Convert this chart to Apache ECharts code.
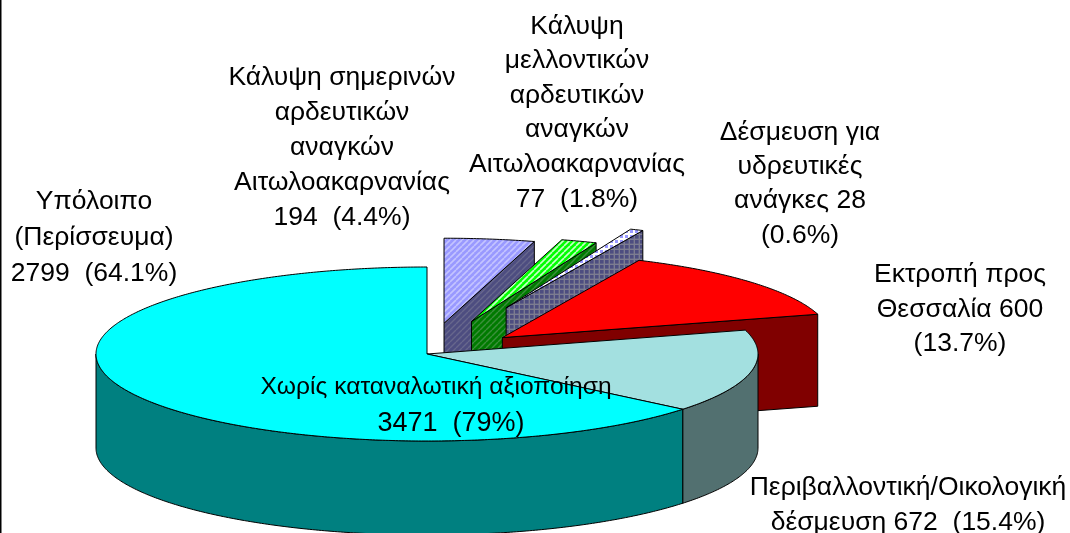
<!DOCTYPE html>
<html>
<head>
<meta charset="utf-8">
<style>
html, body { margin: 0; padding: 0; background: #fff; }
#chart { width: 1070px; height: 533px; }
</style>
<script src="https://cdn.jsdelivr.net/npm/echarts@6/dist/echarts.min.js"></script>
</head>
<body>
<div id="chart"></div>
<script>
// slices, clockwise from 12 o'clock (this is also the back to front order)
var categories = [
    'Κάλυψη σημερινών\nαρδευτικών\nαναγκών\nΑιτωλοακαρνανίας',
    'Κάλυψη\nμελλοντικών\nαρδευτικών\nαναγκών\nΑιτωλοακαρνανίας',
    'Δέσμευση για\nυδρευτικές\nανάγκες',
    'Εκτροπή προς\nΘεσσαλία',
    'Περιβαλλοντική/Οικολογική\nδέσμευση',
    'Υπόλοιπο\n(Περίσσευμα)'
];
var values = [194, 77, 28, 600, 672, 2799];
var percents = ['4.4%', '1.8%', '0.6%', '13.7%', '15.4%', '64.1%'];
var explode = [0.37, 0.41, 0.6, 0.3, 0, 0];

var totalName = 'Χωρίς καταναλωτική αξιοποίηση';
var totalValue = 3471;
var totalPercent = '79%';

// how each label breaks between name and value
var labelTexts = [
    categories[0] + '\n' + values[0] + '  (' + percents[0] + ')',
    categories[1] + '\n' + values[1] + '  (' + percents[1] + ')',
    categories[2] + ' ' + values[2] + '\n(' + percents[2] + ')',
    categories[3] + ' ' + values[3] + '\n(' + percents[3] + ')',
    categories[4] + ' ' + values[4] + '  (' + percents[4] + ')',
    categories[5] + '\n' + values[5] + '  (' + percents[5] + ')',
    totalName,
    totalValue + '  (' + totalPercent + ')'
];
// label centre x, top y, line step, font size
var labelSpots = [
    [342, 60, 35, 26.5], [577, 9, 34.6, 26.5], [800, 115, 34.4, 26.5], [960, 258, 34.2, 26.5],
    [908, 470, 35, 26.5], [94, 184, 36, 26.5], [436, 370, 35, 24.6], [451, 406, 35, 27]
];

var cx = 427, cy = 354, rx = 331, ry = 87, depth = 94;
// exploded slices sit a little further back and come out slightly smaller
var rxOut = 328, ryOut = 85, depthOut = 92, explodeRy = 84;

function makePattern(size, base, draw) {
    var c = document.createElement('canvas');
    c.width = size;
    c.height = size;
    var g = c.getContext('2d');
    g.fillStyle = base;
    g.fillRect(0, 0, size, size);
    draw(g, size);
    return {image: c, repeat: 'repeat'};
}

function stripes(base, color, w) {
    return makePattern(6, base, function (g, s) {
        g.strokeStyle = color;
        g.lineWidth = w;
        for (var i = -s; i <= 2 * s; i += s) {
            g.beginPath();
            g.moveTo(i, s);
            g.lineTo(i + s, 0);
            g.stroke();
        }
    });
}

function grid(base, color, size, w) {
    return makePattern(size, base, function (g, s) {
        g.fillStyle = color;
        g.fillRect(s - w, 0, w, s);
        g.fillRect(0, s - w, s, w);
    });
}

var tops = [
    stripes('#9999ff', '#c4c4ff', 1.6),
    stripes('#00ff00', '#c8ffc8', 1.6),
    grid('#9999ff', '#ffffff', 5, 2),
    '#ff0000',
    '#a3e0e0',
    '#00ffff'
];
var walls = [
    stripes('#4d4d80', '#67678c', 1.4),
    stripes('#007a00', '#3c8f3c', 1.4),
    grid('#4d4d80', '#7c7c90', 5, 1.4),
    '#800000',
    '#527070',
    '#008080'
];

var total = values.reduce(function (a, b) { return a + b; }, 0);
var starts = [];
values.reduce(function (a, v, i) { starts[i] = a; return a + v; }, 0);

function toAngle(v) {
    return v / total * 2 * Math.PI;
}

function renderSlice(params, api) {
    var i = params.dataIndex;
    var a0 = toAngle(starts[i]);
    var a1 = a0 + toAngle(api.value(0));
    var mid = (a0 + a1) / 2;
    var ox = cx + explode[i] * rx * Math.sin(mid);
    var oy = cy - explode[i] * explodeRy * Math.cos(mid);
    var out = explode[i] > 0;
    var srx = out ? rxOut : rx, sry = out ? ryOut : ry, d = out ? depthOut : depth;

    function rim(a, drop) {
        return [ox + srx * Math.sin(a), oy - sry * Math.cos(a) + (drop || 0)];
    }
    function arc(from, to, drop) {
        var pts = [];
        var n = Math.max(2, Math.ceil((to - from) / 0.01));
        for (var k = 0; k <= n; k++) {
            pts.push(rim(from + (to - from) * k / n, drop));
        }
        return pts;
    }
    function face(points, fill) {
        return {
            type: 'polygon',
            shape: {points: points},
            style: {fill: fill, stroke: '#000', lineWidth: 1, lineJoin: 'round'}
        };
    }

    var children = [];
    // cut face on the clockwise end, only the right half shows it
    if (a1 < Math.PI) {
        children.push(face([[ox, oy], rim(a1), rim(a1, d), [ox, oy + d]], walls[i]));
    }
    // rounded outer wall, front half only
    var w0 = Math.max(a0, Math.PI / 2), w1 = Math.min(a1, 3 * Math.PI / 2);
    if (w1 > w0) {
        children.push(face(arc(w0, w1).concat(arc(w0, w1, d).reverse()), walls[i]));
    }
    children.push(face([[ox, oy]].concat(arc(a0, a1)), tops[i]));
    return {type: 'group', children: children};
}

function renderLabel(params, api) {
    var spot = labelSpots[params.dataIndex];
    return {
        type: 'text',
        x: spot[0],
        y: spot[1],
        style: {
            text: labelTexts[params.dataIndex],
            fill: '#000',
            font: spot[3] + 'px "Liberation Sans", Arial, sans-serif',
            lineHeight: spot[2],
            align: 'center',
            verticalAlign: 'top'
        }
    };
}

var myChart = echarts.init(document.getElementById('chart'));

var option = {
    animation: false,
    backgroundColor: '#fff',
    graphic: [{
        type: 'rect',
        shape: {x: 0, y: 0, width: 1.5, height: 533},
        style: {fill: '#000'}
    }],
    series: [
        {
            type: 'custom',
            coordinateSystem: 'none',
            silent: true,
            renderItem: renderSlice,
            data: values.map(function (v) { return [v]; })
        },
        {
            type: 'custom',
            coordinateSystem: 'none',
            silent: true,
            z: 5,
            renderItem: renderLabel,
            data: labelTexts.map(function (t) { return [t]; })
        }
    ]
};

myChart.setOption(option);
</script>
</body>
</html>
